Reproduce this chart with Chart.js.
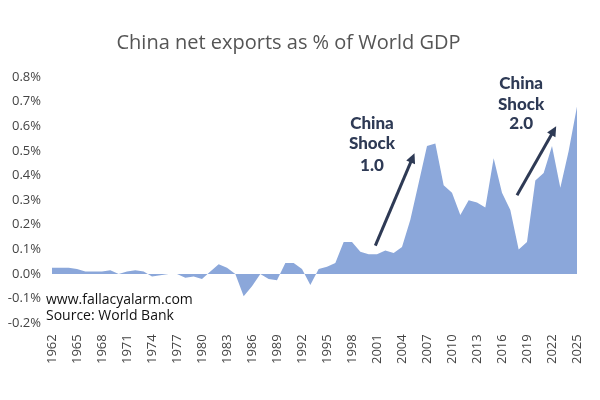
<!DOCTYPE html>
<html><head><meta charset="utf-8">
<script src="https://cdn.jsdelivr.net/npm/chart.js@4"></script>
<style>body{margin:0;background:#fff}#wrap{width:600px;height:400px}</style>
</head><body><div id="wrap"><canvas id="c"></canvas></div>
<script>
const years = [];
for (let y = 1962; y <= 2025; y++) years.push(String(y));
const netExports = [
  0.025, 0.025, 0.025, 0.02, 0.01, 0.01, 0.01, 0.015, 0.0, 0.01,
  0.015, 0.01, -0.01, -0.005, 0, 0, -0.015, -0.01, -0.02, 0.01,
  0.04, 0.025, 0.0, -0.09, -0.05, 0.0, -0.02, -0.025, 0.045, 0.045,
  0.02, -0.045, 0.02, 0.03, 0.045, 0.13, 0.13, 0.09, 0.08, 0.08,
  0.095, 0.085, 0.11, 0.22, 0.37, 0.52, 0.53, 0.36, 0.33, 0.24,
  0.30, 0.29, 0.27, 0.47, 0.33, 0.26, 0.10, 0.13, 0.38, 0.41,
  0.52, 0.35, 0.50, 0.68
];
const notes = [
  { lines: ["China", "Shock", "1.0"], x: 38.4, y: [0.61, 0.53, 0.44], from: [38.8, 0.115], to: [43.5, 0.49] },
  { lines: ["China", "Shock", "2.0"], x: 56.3, y: [0.775, 0.69, 0.61], from: [55.8, 0.32], to: [60.5, 0.60] }
];

const notePlugin = {
  id: "notes",
  afterDatasetsDraw(chart) {
    const { ctx, scales: { x, y } } = chart;
    const px = v => x.left + (x.right - x.left) * v / (years.length - 1);
    ctx.save();
    ctx.fillStyle = "#2e3a55";
    ctx.strokeStyle = "#2e3a55";
    ctx.font = "900 17px Lato, sans-serif";
    ctx.textAlign = "center";
    ctx.textBaseline = "middle";
    notes.forEach(n => {
      n.lines.forEach((t, i) => ctx.fillText(t, px(n.x), y.getPixelForValue(n.y[i])));
      const x1 = px(n.from[0]), y1 = y.getPixelForValue(n.from[1]);
      const x2 = px(n.to[0]), y2 = y.getPixelForValue(n.to[1]);
      const a = Math.atan2(y2 - y1, x2 - x1);
      ctx.lineWidth = 3;
      ctx.beginPath();
      ctx.moveTo(x1, y1);
      ctx.lineTo(x2 - 8 * Math.cos(a), y2 - 8 * Math.sin(a));
      ctx.stroke();
      ctx.beginPath();
      ctx.moveTo(x2, y2);
      ctx.lineTo(x2 - 11 * Math.cos(a - 0.45), y2 - 11 * Math.sin(a - 0.45));
      ctx.lineTo(x2 - 11 * Math.cos(a + 0.45), y2 - 11 * Math.sin(a + 0.45));
      ctx.closePath();
      ctx.fill();
    });
    ctx.fillStyle = "#111";
    ctx.font = "14px 'Open Sans', sans-serif";
    ctx.textAlign = "left";
    ctx.fillText("www.fallacyalarm.com", 46, 300);
    ctx.fillText("Source: World Bank", 46, 316);
    ctx.restore();
  }
};

new Chart(document.getElementById("c"), {
  type: "line",
  data: {
    labels: years,
    datasets: [{
      data: netExports,
      fill: "origin",
      backgroundColor: "#8ba7da",
      borderWidth: 0,
      pointRadius: 0,
      tension: 0
    }]
  },
  options: {
    responsive: true,
    maintainAspectRatio: false,
    animation: false,
    layout: { padding: { top: 17, right: 23, bottom: 33, left: 0 } },
    plugins: {
      legend: { display: false },
      tooltip: { enabled: false },
      title: {
        display: true,
        text: "China net exports as % of World GDP",
        color: "#555",
        font: { family: "'Open Sans', sans-serif", size: 20, weight: "normal" },
        padding: { top: 14, bottom: 22 }
      }
    },
    scales: {
      x: {
        offset: false,
        grid: { display: false },
        border: { display: false },
        ticks: {
          autoSkip: false,
          maxRotation: 90,
          minRotation: 90,
          color: "#444",
          font: { family: "'Open Sans', sans-serif", size: 13 },
          callback: (v, i) => (i % 3 === 0 ? years[i] : "")
        }
      },
      y: {
        min: -0.2,
        max: 0.8,
        afterFit: s => { s.width = 52; },
        grid: { display: false },
        border: { display: false },
        ticks: {
          stepSize: 0.1,
          color: "#444",
          font: { family: "'Open Sans', sans-serif", size: 13 },
          callback: v => v.toFixed(1) + "%"
        }
      }
    }
  },
  plugins: [notePlugin]
});
</script></body></html>
